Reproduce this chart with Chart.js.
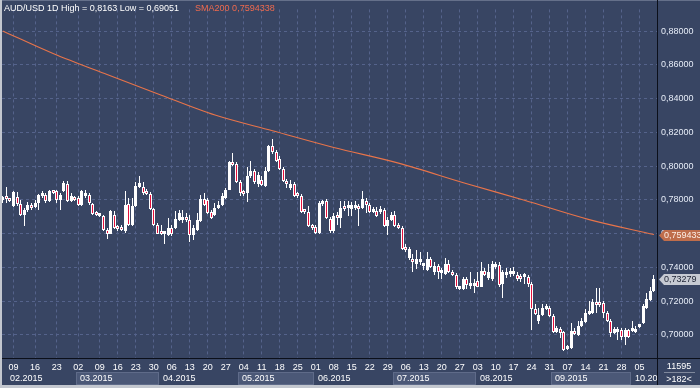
<!DOCTYPE html>
<html>
<head>
<meta charset="utf-8">
<title>AUD/USD 1D</title>
<script src="https://cdn.jsdelivr.net/npm/chart.js"></script>
<style>
  html, body { margin: 0; padding: 0; background: #c3c7cf; }
</style>
</head>
<body>
<canvas id="c" width="700" height="388"></canvas>
<script>
// daily bars, Feb 5 2015 .. Oct 9 2015 (182 bars, index = bar number)
const openP = [
  0.7798,0.7821,0.7803,0.7763,0.7815,0.7774,0.7711,0.7740,0.7769,0.7757,0.7780,0.7821,0.7827,0.7792,0.7850,0.7850,0.7798,0.7850,0.7896,0.7792,
  0.7815,0.7809,0.7769,0.7821,0.7827,0.7774,0.7722,0.7705,0.7705,0.7624,0.7600,0.7711,0.7641,0.7641,0.7618,0.7774,0.7653,0.7763,0.7879,0.7879,
  0.7850,0.7832,0.7745,0.7653,0.7606,0.7595,
  0.7589,0.7635,0.7635,0.7682,0.7682,0.7693,0.7682,0.7589,0.7624,0.7676,0.7803,0.7798,0.7728,0.7711,0.7751,0.7769,0.7809,0.7861,0.8024,0.8012,
  0.7908,0.7844,0.7838,0.7943,0.7972,0.7896,0.7919,0.7885,0.7972,0.8117,0.8082,0.8041,0.7983,0.7914,0.7873,0.7896,0.7827,0.7821,0.7734,0.7728,
  0.7647,0.7641,0.7606,0.7774,0.7792,0.7687,0.7618,
  0.7705,0.7693,0.7763,0.7751,0.7745,0.7751,0.7763,0.7751,0.7792,0.7769,0.7728,0.7734,0.7728,0.7740,0.7647,0.7682,0.7711,0.7653,0.7635,0.7519,
  0.7455,0.7450,0.7421,0.7432,0.7409,0.7386,0.7450,0.7373,0.7409,0.7368,0.7362,0.7421,0.7373,0.7356,0.7269,0.7269,0.7333,0.7292,0.7292,0.7321,
  0.7286,0.7380,0.7339,
  0.7333,0.7403,0.7415,0.7304,0.7356,0.7362,0.7362,0.7356,0.7350,0.7344,0.7344,0.7304,0.7153,0.7083,0.7118,0.7153,0.7159,0.7112,0.7014,0.7037,
  0.7014,0.6915,0.6921,0.7019,0.6996,0.7054,0.7077,0.7124,0.7130,0.7188,0.7188,0.7188,0.7130,0.7083,0.7008,0.7019,0.7031,0.6985,0.7031,0.7025,
  0.7014,0.7048,0.7072,0.7159,0.7205,0.7257
];
const highP = [
  0.7821,0.7879,0.7809,0.7850,0.7844,0.7798,0.7751,0.7786,0.7780,0.7798,0.7832,0.7850,0.7838,0.7856,0.7856,0.7856,0.7838,0.7914,0.7914,0.7838,
  0.7821,0.7821,0.7861,0.7856,0.7838,0.7780,0.7734,0.7722,0.7711,0.7635,0.7740,0.7734,0.7653,0.7653,0.7850,0.7809,0.7809,0.7908,0.7943,0.7908,
  0.7867,0.7844,0.7751,0.7664,0.7653,0.7612,
  0.7693,0.7653,0.7734,0.7740,0.7740,0.7722,0.7711,0.7653,0.7722,0.7827,0.7838,0.7809,0.7740,0.7780,0.7792,0.7838,0.7873,0.8030,0.8076,0.8024,
  0.7919,0.7856,0.7995,0.8030,0.7983,0.7966,0.7943,0.7995,0.8128,0.8163,0.8093,0.8059,0.7995,0.7925,0.7919,0.7908,0.7844,0.7832,0.7745,0.7763,
  0.7658,0.7653,0.7792,0.7798,0.7803,0.7699,0.7722,
  0.7728,0.7792,0.7792,0.7792,0.7786,0.7792,0.7774,0.7850,0.7809,0.7780,0.7757,0.7757,0.7763,0.7751,0.7699,0.7728,0.7734,0.7664,0.7647,0.7537,
  0.7519,0.7479,0.7502,0.7490,0.7426,0.7490,0.7461,0.7432,0.7421,0.7397,0.7455,0.7444,0.7386,0.7368,0.7292,0.7344,0.7344,0.7373,0.7333,0.7373,
  0.7432,0.7397,0.7421,
  0.7438,0.7432,0.7432,0.7386,0.7397,0.7397,0.7403,0.7373,0.7362,0.7368,0.7356,0.7315,0.7182,0.7159,0.7182,0.7182,0.7170,0.7124,0.7054,0.7048,
  0.7025,0.6938,0.7072,0.7043,0.7083,0.7101,0.7153,0.7199,0.7211,0.7275,0.7275,0.7199,0.7141,0.7095,0.7048,0.7048,0.7043,0.7043,0.7037,0.7083,
  0.7054,0.7066,0.7182,0.7246,0.7281,0.7356
];
const lowP = [
  0.7780,0.7780,0.7786,0.7757,0.7763,0.7705,0.7647,0.7728,0.7740,0.7751,0.7740,0.7809,0.7780,0.7786,0.7832,0.7780,0.7740,0.7844,0.7786,0.7786,
  0.7792,0.7763,0.7763,0.7809,0.7769,0.7711,0.7705,0.7699,0.7618,0.7566,0.7595,0.7629,0.7618,0.7618,0.7606,0.7647,0.7647,0.7757,0.7873,0.7827,
  0.7827,0.7740,0.7647,0.7595,0.7589,0.7537,
  0.7583,0.7583,0.7629,0.7676,0.7664,0.7670,0.7548,0.7560,0.7618,0.7670,0.7763,0.7716,0.7687,0.7705,0.7745,0.7763,0.7803,0.7856,0.8001,0.7902,
  0.7821,0.7821,0.7786,0.7931,0.7896,0.7879,0.7885,0.7879,0.7966,0.8070,0.8024,0.7977,0.7908,0.7873,0.7861,0.7815,0.7809,0.7722,0.7716,0.7641,
  0.7624,0.7600,0.7600,0.7763,0.7687,0.7606,0.7606,
  0.7653,0.7635,0.7734,0.7705,0.7705,0.7740,0.7647,0.7745,0.7722,0.7722,0.7722,0.7699,0.7716,0.7641,0.7589,0.7676,0.7641,0.7629,0.7502,0.7490,
  0.7444,0.7373,0.7392,0.7415,0.7386,0.7380,0.7397,0.7356,0.7333,0.7333,0.7356,0.7368,0.7350,0.7269,0.7263,0.7263,0.7269,0.7269,0.7246,0.7281,
  0.7281,0.7350,0.7327,
  0.7321,0.7392,0.7286,0.7217,0.7339,0.7344,0.7350,0.7321,0.7315,0.7304,0.7286,0.7031,0.7118,0.7066,0.7112,0.7147,0.7106,0.7008,0.7008,0.6979,
  0.69051,0.6909,0.6915,0.6996,0.6990,0.7048,0.7072,0.7118,0.7124,0.7130,0.7164,0.7101,0.7077,0.6985,0.7002,0.6967,0.6967,0.6938,0.6979,0.7014,
  0.7008,0.7043,0.7066,0.7153,0.7199,0.7251
];
const closeP = [
  0.7809,0.7803,0.7792,0.7844,0.7774,0.7711,0.7740,0.7769,0.7751,0.7780,0.7827,0.7827,0.7792,0.7850,0.7838,0.7798,0.7827,0.7902,0.7792,0.7821,
  0.7798,0.7769,0.7850,0.7827,0.7780,0.7716,0.7711,0.7716,0.7624,0.7595,0.7734,0.7635,0.7629,0.7624,0.7769,0.7653,0.7763,0.7885,0.7902,0.7838,
  0.7832,0.7745,0.7653,0.7600,0.7595,0.7600,
  0.7635,0.7595,0.7687,0.7722,0.7693,0.7682,0.7589,0.7635,0.7682,0.7803,0.7769,0.7722,0.7693,0.7751,0.7769,0.7821,0.7861,0.8024,0.8006,0.7908,
  0.7838,0.7832,0.7943,0.7972,0.7908,0.7948,0.7890,0.7972,0.8117,0.8082,0.8030,0.7983,0.7914,0.7896,0.7896,0.7821,0.7821,0.7728,0.7728,0.7647,
  0.7635,0.7606,0.7780,0.7786,0.7693,0.7618,0.7705,
  0.7693,0.7751,0.7745,0.7757,0.7769,0.7763,0.7745,0.7803,0.7769,0.7728,0.7745,0.7705,0.7740,0.7647,0.7682,0.7711,0.7647,0.7635,0.7508,0.7502,
  0.7508,0.7432,0.7450,0.7450,0.7415,0.7450,0.7403,0.7409,0.7373,0.7380,0.7421,0.7373,0.7356,0.7286,0.7281,0.7333,0.7298,0.7298,0.7298,0.7286,
  0.7380,0.7356,0.7373,
  0.7421,0.7421,0.7298,0.7373,0.7368,0.7373,0.7368,0.7333,0.7333,0.7350,0.7304,0.7153,0.7124,0.7118,0.7159,0.7164,0.7112,0.7014,0.7043,0.7008,
  0.6909,0.6927,0.7025,0.7002,0.7054,0.7083,0.7130,0.7130,0.7193,0.7176,0.7176,0.7130,0.7083,0.7008,0.7037,0.7031,0.6985,0.7031,0.6985,0.7031,
  0.7037,0.7054,0.7170,0.7211,0.7257,0.73279
];

// SMA200 read at a few bars, the line is drawn between them
const smaIdx = [0, 14, 29, 43, 59, 75, 92, 110, 129, 145, 163, 181];
const smaVal = [0.8802, 0.8668, 0.8543, 0.8430, 0.8303, 0.8210, 0.8111, 0.8018, 0.7896, 0.7798, 0.7683, 0.7594338];

// time axis
const weekTickIdx = [3,9,15,21,27,32,37,42,47,52,57,62,67,72,77,82,87,92,97,102,107,112,117,122,127,132,137,142,147,152,157,162,167,172,177];
const weekTickLbl = ['09','16','23','02','09','16','23','30','06','13','20','27','04','11','18','25','01','08','15','22','29','06','13','20','27','03','10','17','24','31','07','14','21','28','05'];
const monthStartIdx = [0, 21, 44, 66, 87, 109, 132, 153, 175];
const monthLbl = ['02.2015','03.2015','04.2015','05.2015','06.2015','07.2015','08.2015','09.2015','10.2015'];

const symbolTitle = 'AUD/USD 1D';
const smaTitle = 'SMA200';
const totalBars = '11595';
const visibleBars = 182;

const FONT = '9px "Liberation Sans", Arial, sans-serif';
const NAVY = '#384563';
const RED = '#e4103c';

function fmt(v) {
  return String(v).replace('.', ',');
}
function trim(v) {
  return v.toFixed(5).replace(/0+$/, '').replace('.', ',');
}

const wicks = highP.map((h, i) => ({ x: i, y: [lowP[i], h] }));
const bodies = openP.map((o, i) => ({ x: i, y: [o, closeP[i]] }));
const bodyColors = openP.map((o, i) => closeP[i] >= o ? '#ffffff' : RED);
const smaPts = smaIdx.map((i, k) => ({ x: i, y: smaVal[k] }));

const background = {
  id: 'background',
  beforeDraw(chart) {
    const { ctx, width, height } = chart;
    ctx.save();
    ctx.fillStyle = '#c3c7cf';
    ctx.fillRect(0, 0, width, height);
    ctx.fillStyle = '#65708a';
    ctx.fillRect(2, 0, width - 2, 1);
    ctx.fillStyle = NAVY;
    ctx.fillRect(2, 1, width - 2, height - 4);
    ctx.restore();
  }
};

// put candles on whole pixels so white stays crisp
const crisp = {
  id: 'crisp',
  beforeDatasetsDraw(chart) {
    chart.data.datasets.forEach((ds, i) => {
      if (ds.type !== 'bar') return;
      chart.getDatasetMeta(i).data.forEach(el => {
        el.x = Math.floor(el.x) + 0.5;
        el.y = Math.round(el.y);
        el.base = Math.round(el.base);
      });
    });
  }
};

const overlay = {
  id: 'overlay',
  afterDraw(chart) {
    const { ctx, chartArea: a, scales: { x, y }, width, height } = chart;
    ctx.save();
    ctx.font = FONT;
    ctx.textBaseline = 'middle';

    // month strip under the day labels
    ctx.save();
    ctx.beginPath();
    ctx.rect(a.left, a.bottom, a.right - a.left, height - a.bottom);
    ctx.clip();
    for (let m = 0; m < monthStartIdx.length; m++) {
      const x0 = Math.max(a.left, Math.round(x.getPixelForValue(monthStartIdx[m] - 0.5)));
      const x1 = m + 1 < monthStartIdx.length ? Math.round(x.getPixelForValue(monthStartIdx[m + 1] - 0.5)) : a.right;
      if (m % 2 === 1) {
        ctx.fillStyle = '#4b5877';
        ctx.fillRect(x0, 373, x1 - x0, 12);
        ctx.strokeStyle = '#5f6b89';
        ctx.strokeRect(x0 + 0.5, 372.5, x1 - x0 - 1, 12);
      }
      ctx.fillStyle = '#ffffff';
      ctx.fillText(monthLbl[m], (m === 0 ? x0 + 8 : x0 + 4), 379);
    }
    ctx.restore();

    // separators
    ctx.strokeStyle = '#0b0f1a';
    ctx.lineWidth = 1;
    ctx.beginPath();
    ctx.moveTo(a.right + 0.5, 0);
    ctx.lineTo(a.right + 0.5, height - 3);
    ctx.moveTo(a.left, a.bottom + 0.5);
    ctx.lineTo(width, a.bottom + 0.5);
    ctx.stroke();

    // price tags on the right axis
    const tag = (val, text, bg, fg) => {
      const ty = Math.round(y.getPixelForValue(val)) + 0.5;
      const x0 = a.right + 2;
      ctx.beginPath();
      ctx.moveTo(x0, ty);
      ctx.lineTo(x0 + 5, ty - 5.5);
      ctx.lineTo(width, ty - 5.5);
      ctx.lineTo(width, ty + 5.5);
      ctx.lineTo(x0 + 5, ty + 5.5);
      ctx.closePath();
      ctx.fillStyle = bg;
      ctx.fill();
      ctx.fillStyle = fg;
      ctx.fillText(text, x0 + 5, ty + 0.5);
    };
    const smaLast = smaVal[smaVal.length - 1];
    const lastClose = closeP[closeP.length - 1];
    tag(smaLast, fmt(smaLast), '#bf6d4b', '#fbeee6');
    tag(lastClose, lastClose.toFixed(5).replace('.', ','), '#c6cad2', '#1c2233');

    // bar counter box
    ctx.textAlign = 'center';
    ctx.fillStyle = '#ffffff';
    ctx.fillText(totalBars, 679, 366.5);
    ctx.fillText('>' + visibleBars + '<', 679, 380);
    ctx.strokeStyle = '#7f889c';
    ctx.beginPath();
    ctx.moveTo(664, 372.5);
    ctx.lineTo(695, 372.5);
    ctx.stroke();

    // legend text
    ctx.textAlign = 'left';
    const hi = Math.max(...highP), lo = Math.min(...lowP);
    const t1 = symbolTitle + ' High = ' + trim(hi) + ' Low = ' + trim(lo);
    ctx.fillStyle = '#ffffff';
    ctx.fillText(t1, 4, 8.5);
    ctx.fillStyle = '#f06a4e';
    ctx.fillText(smaTitle + ' ' + fmt(smaLast), 4 + ctx.measureText(t1).width + 16, 8.5);
    ctx.restore();
  }
};

new Chart(document.getElementById('c'), {
  type: 'bar',
  data: {
    datasets: [
      {
        type: 'line',
        data: smaPts,
        borderColor: '#e8744a',
        borderWidth: 1.1,
        pointRadius: 0,
        cubicInterpolationMode: 'monotone',
        order: 3
      },
      {
        type: 'bar',
        data: wicks,
        backgroundColor: '#ffffff',
        barThickness: 1,
        maxBarThickness: 1,
        grouped: false,
        inflateAmount: 0,
        order: 2
      },
      {
        type: 'bar',
        data: bodies,
        backgroundColor: bodyColors,
        borderColor: '#ffffff',
        borderWidth: 1,
        borderSkipped: false,
        barThickness: 3,
        maxBarThickness: 3,
        minBarLength: 3,
        grouped: false,
        inflateAmount: 0,
        order: 1
      }
    ]
  },
  options: {
    responsive: false,
    devicePixelRatio: 1,
    animation: false,
    layout: { padding: { left: 2, top: 2, right: 0, bottom: 0 } },
    plugins: { legend: { display: false }, tooltip: { enabled: false } },
    scales: {
      x: {
        type: 'linear',
        min: -0.2,
        max: 181.85,
        offset: false,
        grid: { color: '#55638b', offset: false, drawTicks: false },
        border: { display: false, dash: [3, 3] },
        afterBuildTicks: s => { s.ticks = weekTickIdx.map(v => ({ value: v })); },
        afterFit: s => { s.height = 30; },
        ticks: {
          autoSkip: false,
          maxRotation: 0,
          minRotation: 0,
          padding: 4,
          color: '#ffffff',
          font: { family: '"Liberation Sans", Arial, sans-serif', size: 9 },
          callback: (v, i) => weekTickLbl[i]
        }
      },
      y: {
        position: 'right',
        min: 0.686236,
        max: 0.892966,
        grid: { color: '#55638b', drawTicks: false },
        border: { display: false, dash: [3, 3] },
        afterFit: s => { s.width = 43; },
        ticks: {
          stepSize: 0.02,
          includeBounds: false,
          padding: 4,
          color: '#e6ecf7',
          font: { family: '"Liberation Sans", Arial, sans-serif', size: 9 },
          callback: v => v.toFixed(5).replace('.', ',')
        }
      }
    }
  },
  plugins: [background, crisp, overlay]
});
</script>
</body>
</html>
